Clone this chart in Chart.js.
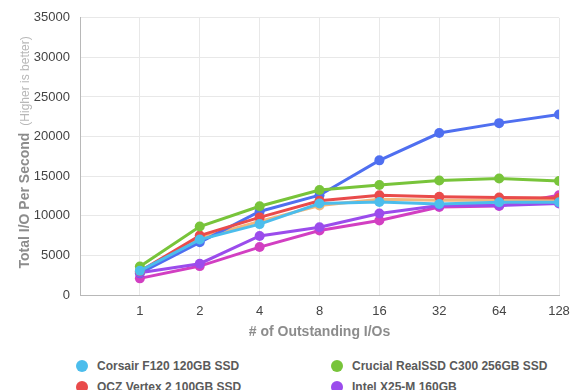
<!DOCTYPE html>
<html lang="en">
<head>
    <meta charset="UTF-8">
    <title>Total I/O Per Second</title>
    <script src="https://cdn.jsdelivr.net/npm/chart.js"></script>
    <style>
        * {
            margin: 0;
            padding: 0;
            box-sizing: border-box;
        }
        body {
            width: 580px;
            height: 390px;
            overflow: hidden;
            background: #fff;
            font-family: 'Liberation Sans', Arial, sans-serif;
            position: relative;
        }
        #wrap {
            position: absolute;
            left: 0;
            top: 0;
            width: 580px;
            height: 345px;
        }
        .legend {
            position: absolute;
            left: 0;
            top: 357px;
            width: 580px;
            display: grid;
            grid-template-columns: 255px 255px;
            padding-left: 76px;
            row-gap: 3px;
        }
        .legend div {
            display: flex;
            align-items: center;
            font-size: 12px;
            font-weight: bold;
            color: #5a5a5a;
            height: 18px;
            white-space: nowrap;
        }
        .legend span.dot {
            width: 12px;
            height: 12px;
            border-radius: 50%;
            margin-right: 9px;
            flex: none;
        }
    </style>
</head>
<body>
    <div id="wrap"><canvas id="chart" width="580" height="345"></canvas></div>
    <div class="legend" id="legend"></div>

    <script>
        // outstanding I/O depth (x axis)
        const queueDepths = ['1', '2', '4', '8', '16', '32', '64', '128'];

        const driveNames = [
            'Corsair F120 120GB SSD',
            'Crucial RealSSD C300 256GB SSD',
            'OCZ Vertex 2 100GB SSD',
            'Intel X25-M 160GB',
            'Intel X25-E 64GB',
            'OCZ Vertex 2 50GB SSD',
            'Kingston SSDNow V+ 128GB'
        ];
        const driveColors = ['#4cbdec', '#78c43a', '#e94b4b', '#9b4cec', '#4f6ff0', '#f2b77c', '#d23fc2'];

        const corsairF120 = [3050, 7000, 8950, 11550, 11750, 11500, 11700, 11700];
        const crucialC300 = [3600, 8650, 11200, 13250, 13900, 14450, 14700, 14400];
        const oczVertex100 = [3000, 7500, 9800, 11900, 12600, 12400, 12300, 12250];
        const intelX25M = [2800, 3950, 7450, 8550, 10300, 11300, 11300, 11550];
        const intelX25E = [2750, 6650, 10550, 12600, 17000, 20450, 21700, 22800];
        const oczVertex50 = [2900, 7200, 9300, 11300, 12100, 11950, 11950, 12000];
        const kingstonV = [2100, 3650, 6050, 8150, 9400, 11100, 11250, 12600];

        const series = [corsairF120, crucialC300, oczVertex100, intelX25M, intelX25E, oczVertex50, kingstonV];

        const datasets = series.map((vals, i) => ({
            label: driveNames[i],
            data: vals.map((v, j) => ({ x: j + 1, y: v })),
            borderColor: driveColors[i],
            backgroundColor: driveColors[i],
            borderWidth: 3,
            pointRadius: 5,
            pointBorderWidth: 0,
            tension: 0
        }));

        // y axis title with the lighter "(Higher is better)" part
        const yTitle = {
            id: 'yTitle',
            afterDraw(chart) {
                const ctx = chart.ctx;
                const cy = (chart.chartArea.top + chart.chartArea.bottom) / 2 - 4;
                ctx.save();
                ctx.translate(25, cy);
                ctx.rotate(-Math.PI / 2);
                ctx.textBaseline = 'middle';
                ctx.font = 'bold 14px "Liberation Sans", Arial, sans-serif';
                const main = 'Total I/O Per Second';
                const w1 = ctx.measureText(main).width;
                ctx.font = '12px "Liberation Sans", Arial, sans-serif';
                const sub = '(Higher is better)';
                const w2 = ctx.measureText(sub).width;
                const gap = 7;
                let x = -(w1 + gap + w2) / 2;
                ctx.font = 'bold 14px "Liberation Sans", Arial, sans-serif';
                ctx.fillStyle = '#8c8c8c';
                ctx.fillText(main, x, 0);
                ctx.font = '12px "Liberation Sans", Arial, sans-serif';
                ctx.fillStyle = '#b8b8b8';
                ctx.fillText(sub, x + w1 + gap, 1);
                ctx.restore();
            }
        };

        new Chart(document.getElementById('chart'), {
            type: 'line',
            data: { datasets: datasets },
            plugins: [yTitle],
            options: {
                responsive: false,
                animation: false,
                layout: { padding: { top: 15, right: 21, left: 0, bottom: 0 } },
                plugins: {
                    legend: { display: false },
                    tooltip: { enabled: false }
                },
                scales: {
                    x: {
                        type: 'linear',
                        min: 0,
                        max: 8,
                        afterFit(scale) { scale.height = 50; },
                        afterBuildTicks(scale) {
                            scale.ticks = [0, 1, 2, 3, 4, 5, 6, 7, 8].map(v => ({ value: v }));
                        },
                        grid: { color: '#e8e8e8', lineWidth: 1, drawTicks: false },
                        border: { color: '#b8b8b8', width: 1 },
                        ticks: {
                            padding: 9,
                            maxRotation: 0,
                            autoSkip: false,
                            color: '#444',
                            font: { family: "'Liberation Sans', Arial, sans-serif", size: 13 },
                            callback: v => v >= 1 ? queueDepths[v - 1] : ''
                        },
                        title: {
                            display: true,
                            text: '# of Outstanding I/Os',
                            color: '#8c8c8c',
                            padding: { top: 4 },
                            font: { family: "'Liberation Sans', Arial, sans-serif", size: 14, weight: 'bold' }
                        }
                    },
                    y: {
                        min: 0,
                        max: 35000,
                        afterFit(scale) { scale.width = 80; },
                        grid: { color: '#e8e8e8', lineWidth: 1, drawTicks: false },
                        border: { color: '#b8b8b8', width: 1 },
                        ticks: {
                            stepSize: 5000,
                            padding: 10,
                            color: '#444',
                            font: { family: "'Liberation Sans', Arial, sans-serif", size: 13 },
                            callback: v => String(v)
                        }
                    }
                }
            }
        });

        // legend in two columns under the plot
        const legendEl = document.getElementById('legend');
        driveNames.forEach((name, i) => {
            const item = document.createElement('div');
            const dot = document.createElement('span');
            dot.className = 'dot';
            dot.style.background = driveColors[i];
            item.appendChild(dot);
            item.appendChild(document.createTextNode(name));
            legendEl.appendChild(item);
        });
    </script>
</body>
</html>
